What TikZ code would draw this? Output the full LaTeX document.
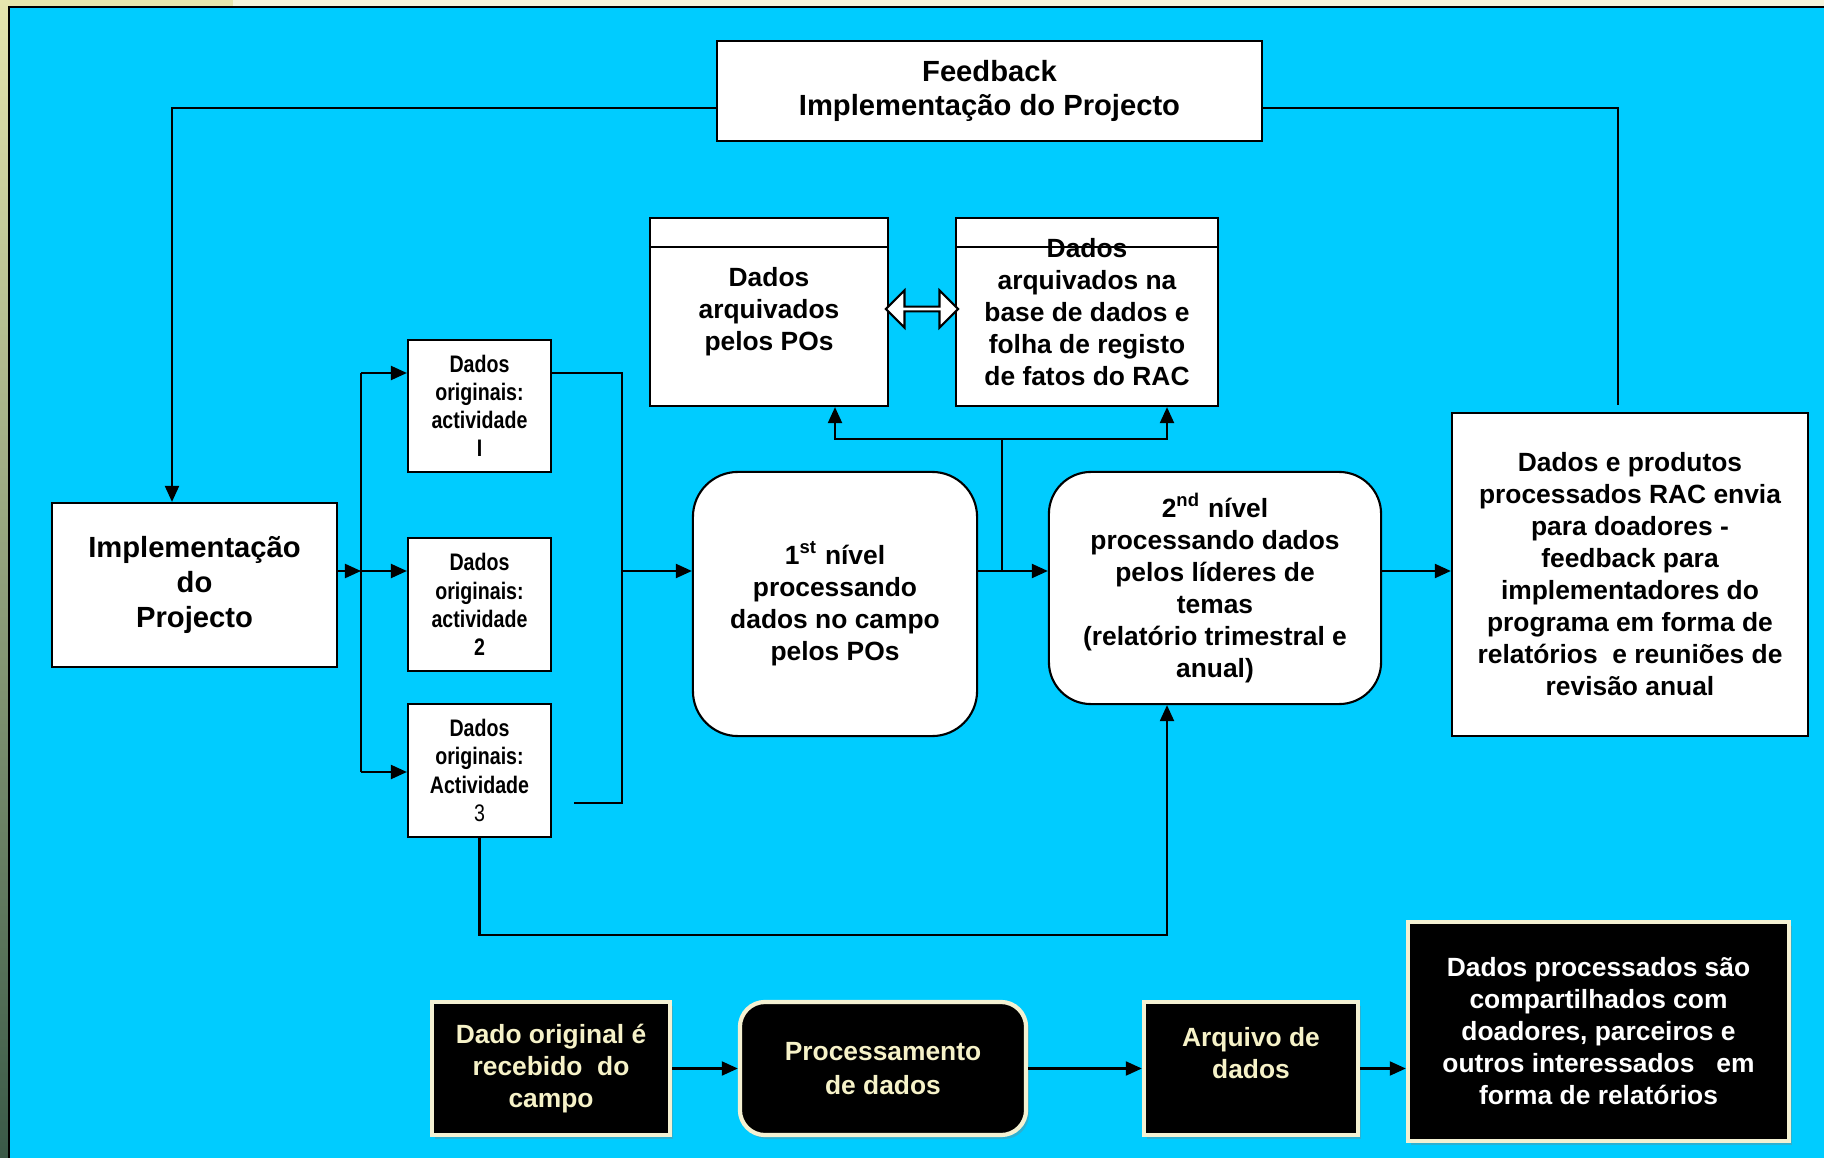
\documentclass[tikz,border=0pt]{standalone}
\usepackage{fontspec}
\setmainfont{Liberation Sans}
\newfontfamily\estreita[FakeStretch=0.82]{Liberation Sans}
\usetikzlibrary{positioning}
\usetikzlibrary{calc,shapes.arrows,shadows}
\usetikzlibrary{arrows.meta}
\definecolor{fundo}{HTML}{00CCFF}
\definecolor{creme}{HTML}{F4F1D2}
\definecolor{letra}{HTML}{F6F2C8}
\definecolor{faixaA}{HTML}{E6E6AE}
\definecolor{faixaB}{HTML}{F4F4DC}
\definecolor{faixaC}{HTML}{3A5A48}
\tikzset{seta/.style={-{Triangle[length=0.16cm,width=0.14cm]},line width=0.6pt},
  caixa/.style={draw=black,fill=white,line width=0.6pt,align=center,inner sep=0pt,font=\bfseries\fontsize{7.5}{9.1}\selectfont},
  orig/.style={caixa,minimum width=1.43cm,minimum height=1.33cm,font=\estreita\bfseries\fontsize{6.8}{8}\selectfont},
  nivel/.style={caixa,rounded corners=0.45cm},
  preto/.style={draw=creme,line width=1.2pt,fill=black,text=letra,align=center,inner sep=0pt,font=\bfseries\fontsize{7.5}{9.1}\selectfont,drop shadow={shadow xshift=0.03cm,shadow yshift=-0.04cm,opacity=0.35}}}
\begin{document}
\begin{tikzpicture}[x=0.01cm,y=-0.01cm]
	\useasboundingbox (0,0) rectangle (1824,1158);
	% fundo
	\fill[faixaA] (0,0) rectangle (233,7); \fill[faixaB] (233,0) rectangle (1824,7);
	\shade[top color=faixaA,bottom color=faixaC] (0,0) rectangle (9,1158);
	\fill[fundo] (9,7) rectangle (1824,1158);
	\draw[line width=0.8pt] (1824,7) -- (9,7) -- (9,1158);
	% caixas brancas
	\node[caixa,minimum width=5.45cm,minimum height=1cm,font=\bfseries\fontsize{8.3}{9.7}\selectfont] (fb) at (989.5,91) {Feedback\\Implementação do Projecto};
	\node[caixa,minimum width=2.85cm,minimum height=1.64cm,font=\bfseries\fontsize{8.3}{9.9}\selectfont] (impl) at (194.5,585) {Implementação\\do\\Projecto};
	\node[orig,minimum height=1.32cm] (orig1) at (479.5,406) {Dados\\originais:\\actividade\\I};
	\node[orig] (orig2) at (479.5,604.5) {Dados\\originais:\\actividade\\2};
	\node[orig] (orig3) at (479.5,770.5) {Dados\\originais:\\Actividade\\\mdseries 3};
	\node[nivel,minimum width=2.84cm,minimum height=2.64cm] (nivel1) at (835,604) {1\textsuperscript{st} nível\\processando\\dados no campo\\pelos POs};
	\node[nivel,minimum width=3.32cm,minimum height=2.32cm,rounded corners=0.42cm] (nivel2) at (1215,588) {2\textsuperscript{nd} nível\\processando dados\\pelos líderes de\\temas\\(relatório trimestral e\\anual)};
	\node[caixa,minimum width=2.38cm,minimum height=1.88cm] (arqA) at (769,312) {Dados\\arquivados\\pelos POs};
	\node[caixa,minimum width=2.62cm,minimum height=1.88cm] (arqB) at (1087,312) {Dados\\arquivados na\\base de dados e\\folha de registo\\de fatos do RAC};
	\draw[line width=0.6pt] ([yshift=-0.3cm]arqA.north west) -- ([yshift=-0.3cm]arqA.north east);
	\draw[line width=0.6pt] ([yshift=-0.3cm]arqB.north west) -- ([yshift=-0.3cm]arqB.north east);
	\node[double arrow,draw=black,fill=white,line width=0.6pt,minimum height=0.72cm,minimum width=0.37cm,double arrow head extend=0.07cm,inner sep=0pt] (troca) at ($(arqA.east)!0.5!(arqB.west)+(0,-3)$) {};
	\node[caixa,minimum width=3.56cm,minimum height=3.23cm] (saida) at (1630,574.5) {Dados e produtos\\processados RAC envia\\para doadores -\\feedback para\\implementadores do\\programa em forma de\\relatórios\ \ e reuniões de\\revisão anual};
	% ligacoes
	\coordinate (fbL) at (172,108); \coordinate (fbR) at (1618,108); \coordinate (fbFim) at (1618,405);
	\draw[seta] (fb.west |- fbL) -- (fbL) -- (fbL |- impl.north);
	\draw[line width=0.6pt] (fb.east |- fbR) -| (fbFim);
	\coordinate (ramo) at (361,571); \coordinate (r1) at (361,373); \coordinate (r3) at (361,772);
	\draw[seta] (impl.east |- ramo) -- (ramo);
	\draw[line width=0.6pt] (r1) -- (r3);
	\draw[seta] (ramo) -- (ramo -| orig2.west);
	\draw[seta] (r1) -- (r1 -| orig1.west);
	\draw[seta] (r3) -- (r3 -| orig3.west);
	\coordinate (c1) at (622,373); \coordinate (c2) at (622,571); \coordinate (c3) at (622,803); \coordinate (toco) at (574,803);
	\draw[line width=0.6pt] (orig1.east |- c1) -- (c1) -- (c3) -- (toco);
	\draw[seta] (c2) -- (c2 -| nivel1.west);
	\coordinate (j) at (1002,571); \coordinate (jt) at (1002,439); \coordinate (k) at (1167,439);
	\draw[seta] (nivel1.east |- j) -- (j -| nivel2.west);
	\draw[line width=0.6pt] (j) -- (jt);
	\draw[seta] (jt) -| (nivel1.north |- arqA.south);
	\draw[seta] (jt) -- (k) -- (k |- arqB.south);
	\draw[seta] (nivel2.east |- j) -- (j -| saida.west);
	\coordinate (baixo) at (1167,935);
	\draw[seta] (orig3.south) |- (baixo) -- (baixo |- nivel2.south);
	% caixas pretas
	\node[preto,minimum width=2.38cm,minimum height=1.33cm] (b1) at (551,1068.5) {Dado original é\\recebido\ \ do\\campo};
	\node[preto,minimum width=2.86cm,minimum height=1.33cm,rounded corners=0.25cm,font=\bfseries\fontsize{7.5}{9.9}\selectfont] (b2) at (883,1068.5) {Processamento\\de dados};
	\node[preto,minimum width=2.14cm,minimum height=1.33cm] (b3) at (1251,1068.5) {Arquivo de\\dados\\\mbox{}};
	\node[preto,minimum width=3.81cm,minimum height=2.19cm,text=white] (b4) at (1598.5,1031.5) {Dados processados são\\compartilhados com\\doadores, parceiros e\\outros interessados\ \ \ em\\forma de relatórios};
	\draw[seta] (b1.east) -- (b2.west);
	\draw[seta] (b2.east) -- (b3.west);
	\draw[seta] (b3.east) -- (b3.east -| b4.west);
\end{tikzpicture}
\end{document}
